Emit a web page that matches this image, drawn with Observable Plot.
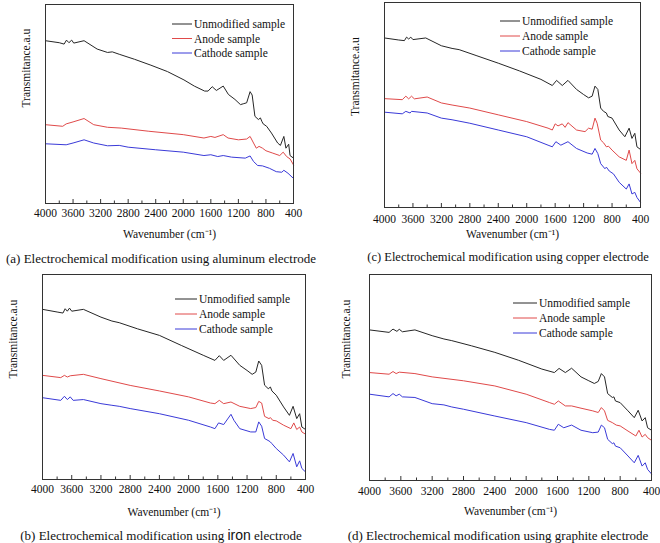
<!DOCTYPE html>
<html><head><meta charset="utf-8">
<script src="https://cdn.jsdelivr.net/npm/d3@7"></script>
<script src="https://cdn.jsdelivr.net/npm/@observablehq/plot@0.6"></script>
<style>
body{margin:0;background:#fff;}
#root{position:relative;width:660px;height:543px;overflow:hidden;background:#fff;font-family:"Liberation Serif","Times New Roman",serif;}
.panel{position:absolute;}
.cap{position:absolute;white-space:nowrap;font-size:13px;color:#111;transform:translate(-50%,-50%);line-height:1;}
</style></head><body><div id="root"></div>
<script>
// ---------- data (wavenumber cm-1, transmittance a.u.) ----------
const seriesNames = ["Unmodified sample", "Anode sample", "Cathode sample"];
const seriesColors = ["#262626", "#e04a4a", "#3a3ad8"];
const majorTicks = [4000, 3600, 3200, 2800, 2400, 2000, 1600, 1200, 800, 400];
const minorTicks = [3800, 3400, 3000, 2600, 2200, 1800, 1400, 1000, 600];
const yLabel = "Transmitance.a.u";
const xLabel = "Wavenumber (cm\u207B\u00B9)";

// (a) aluminum
const alUnmodified = [[4000,81.8],[3800,80.8],[3730,80.1],[3695,82.1],[3660,80.8],[3620,82.1],[3590,80.6],[3440,81.8],[3250,77.6],[3100,75.9],[3030,76.2],[2930,75.0],[2710,72.5],[2470,69.5],[2230,66.3],[1990,62.1],[1840,59.0],[1690,56.5],[1640,56.5],[1580,58.7],[1520,56.8],[1420,59.0],[1345,54.8],[1250,52.3],[1170,49.7],[1130,50.1],[1080,50.6],[1030,56.2],[1000,54.5],[960,43.8],[910,42.2],[880,43.0],[860,41.3],[840,40.0],[790,38.8],[720,35.4],[630,30.4],[590,29.2],[540,33.7],[510,27.8],[470,29.8],[450,24.1],[400,22.8]];
const alAnode = [[4000,39.6],[3750,38.8],[3700,40.0],[3600,41.0],[3440,42.7],[3300,39.6],[3100,38.3],[2900,37.9],[2500,36.3],[2000,34.6],[1700,32.9],[1600,33.7],[1540,33.2],[1420,34.6],[1350,32.9],[1200,32.0],[1080,32.4],[1030,33.7],[980,30.4],[940,27.8],[900,28.7],[850,27.8],[800,26.5],[700,25.3],[600,24.1],[550,25.8],[500,23.6],[450,22.4],[400,19.4]];
const alCathode = [[4000,30.0],[3700,29.5],[3600,30.4],[3440,32.0],[3300,30.4],[3100,29.0],[2930,29.2],[2800,28.3],[2400,27.0],[2000,25.8],[1700,24.1],[1600,24.5],[1500,23.6],[1420,24.1],[1300,23.3],[1100,22.8],[1030,23.9],[980,21.1],[920,19.1],[850,18.9],[750,17.7],[650,16.0],[570,15.7],[540,16.7],[480,15.2],[400,12.6]];

// (c) copper
const cuUnmodified = [[4000,82.7],[3800,81.7],[3720,81.4],[3690,83.1],[3660,82.2],[3630,83.1],[3600,81.9],[3420,82.7],[3200,78.9],[3050,77.6],[2950,77.0],[2700,74.0],[2400,70.4],[2100,66.6],[1800,62.5],[1640,59.5],[1580,62.0],[1500,59.5],[1420,62.0],[1300,57.6],[1200,55.1],[1130,53.5],[1080,54.3],[1040,59.2],[1000,57.6],[960,48.5],[920,46.9],[880,46.1],[860,44.4],[800,43.6],[700,37.8],[620,34.5],[560,38.7],[520,33.7],[480,36.2],[450,29.6],[400,28.3]];
const cuAnode = [[4000,53.1],[3750,52.6],[3700,54.3],[3660,53.0],[3620,54.3],[3580,53.0],[3400,53.9],[3200,51.0],[3050,50.0],[2800,48.5],[2400,45.2],[2000,41.9],[1700,38.7],[1640,37.8],[1600,40.8],[1560,39.8],[1500,40.8],[1460,39.1],[1420,41.4],[1300,37.8],[1180,37.0],[1130,38.7],[1080,38.2],[1040,43.6],[1010,41.1],[960,32.9],[920,31.6],[880,29.6],[850,29.9],[800,28.0],[700,24.7],[600,23.0],[560,28.0],[520,21.4],[480,23.0],[450,18.9],[400,16.8]];
const cuCathode = [[4000,46.5],[3750,45.7],[3700,46.9],[3640,46.1],[3620,46.9],[3400,46.1],[3200,43.6],[3050,42.8],[2800,41.1],[2400,37.8],[2000,34.5],[1700,30.4],[1640,29.6],[1590,32.1],[1520,30.4],[1420,32.1],[1300,28.8],[1150,26.6],[1080,26.0],[1040,28.8],[1000,26.3],[960,21.4],[900,18.9],[880,19.7],[840,17.8],[780,16.4],[700,12.3],[600,9.0],[560,11.5],[520,6.6],[480,7.4],[450,4.9],[400,2.5]];

// (b) iron
const feUnmodified = [[4000,83.0],[3800,81.7],[3720,81.2],[3690,83.3],[3660,82.1],[3630,83.6],[3600,82.1],[3440,83.0],[3200,79.2],[3050,77.3],[2950,76.5],[2700,73.5],[2400,70.3],[2100,65.4],[1800,60.6],[1640,58.1],[1580,60.4],[1520,58.1],[1420,60.6],[1300,55.7],[1200,53.2],[1130,51.3],[1080,52.4],[1040,57.8],[1000,55.7],[960,46.0],[910,44.3],[880,45.1],[860,43.2],[800,41.1],[700,35.4],[620,31.3],[570,35.7],[520,29.7],[480,32.1],[450,25.6],[400,24.4]];
const feAnode = [[4000,50.8],[3750,49.7],[3700,50.8],[3660,50.0],[3620,50.6],[3440,51.3],[3200,49.2],[2800,45.9],[2400,43.2],[2000,40.3],[1700,37.3],[1640,37.0],[1580,38.6],[1520,37.0],[1420,37.8],[1300,35.7],[1150,34.6],[1080,35.1],[1040,38.1],[1000,37.3],[960,30.8],[900,29.7],[880,30.2],[850,28.9],[800,28.6],[700,26.5],[600,24.8],[560,27.6],[520,24.4],[480,25.6],[450,23.2],[400,22.1]];
const feCathode = [[4000,39.9],[3750,38.6],[3700,40.6],[3660,39.0],[3620,40.3],[3580,38.6],[3440,39.0],[3200,37.0],[3050,36.2],[2950,35.7],[2800,34.6],[2400,32.1],[2000,28.9],[1700,25.6],[1640,24.8],[1590,27.6],[1520,26.8],[1420,31.8],[1380,28.9],[1300,24.8],[1150,23.2],[1080,23.2],[1040,28.1],[1000,26.0],[960,20.0],[900,18.8],[880,18.3],[860,17.5],[800,15.1],[700,11.9],[620,8.6],[570,12.7],[520,6.2],[480,9.1],[450,5.4],[400,3.7]];

// (d) graphite
const grUnmodified = [[4000,73.1],[3750,71.9],[3700,73.5],[3650,72.4],[3620,73.4],[3580,72.2],[3420,73.1],[3200,70.3],[3050,68.7],[2950,67.9],[2700,65.4],[2400,62.2],[2100,58.4],[1800,54.1],[1640,52.4],[1580,54.4],[1500,52.4],[1420,54.5],[1300,50.3],[1200,48.4],[1130,47.1],[1080,48.1],[1040,51.9],[1000,50.3],[960,42.2],[900,40.3],[880,40.6],[860,38.6],[800,37.8],[700,33.8],[620,30.5],[570,34.1],[520,28.9],[480,30.5],[450,25.6],[400,24.4]];
const grAnode = [[4000,52.4],[3750,51.6],[3700,52.9],[3660,51.9],[3620,52.6],[3420,51.9],[3200,50.3],[2800,48.4],[2400,45.9],[2000,41.9],[1700,37.8],[1640,37.0],[1590,38.6],[1500,36.2],[1420,36.2],[1300,35.1],[1150,33.8],[1080,33.0],[1040,35.4],[1000,33.8],[960,29.2],[900,28.1],[850,26.9],[800,26.5],[700,24.0],[600,21.6],[560,24.4],[520,21.1],[480,22.4],[450,20.8],[400,19.5]];
const grCathode = [[4000,41.9],[3750,40.6],[3700,42.2],[3660,41.1],[3620,41.9],[3580,40.6],[3420,40.3],[3200,37.3],[3050,36.7],[2950,35.7],[2800,34.6],[2400,31.3],[2000,28.1],[1700,24.8],[1640,24.4],[1590,27.3],[1520,25.6],[1420,26.9],[1300,24.4],[1150,23.2],[1080,23.5],[1040,26.9],[1000,25.6],[960,20.0],[900,17.9],[880,18.3],[860,16.7],[800,15.9],[700,11.9],[620,8.6],[570,12.2],[520,7.0],[480,8.6],[450,5.4],[400,3.2]];

const captions = [
  "(a) Electrochemical modification using aluminum electrode",
  "(c) Electrochemical modification using copper electrode",
  "(b) Electrochemical modification using <span style=\"font-family:'Liberation Sans',Arial,sans-serif;font-size:14px\">iron</span> electrode",
  "(d) Electrochemical modification using graphite electrode"
];

// ---------- layout ----------
const panels = [
  {series:[alUnmodified, alAnode, alCathode], left:0, top:0, width:310, height:248, mL:45, mR:17, mT:4, mB:45,
   ylx:-19, yly:3.5, xly:34, tickPad:5, leg:{x:127, y:20, len:20, gap:14.5}, cap:[161,258], capFs:13},
  {series:[cuUnmodified, cuAnode, cuCathode], left:330, top:0, width:322, height:248, mL:54, mR:12, mT:2, mB:41,
   ylx:-29, yly:11, xly:30, tickPad:7, leg:{x:116, y:19, len:20, gap:15}, cap:[508,257], capFs:12.5},
  {series:[feUnmodified, feAnode, feCathode], left:0, top:270, width:320, height:250, mL:42, mR:15, mT:4, mB:41,
   ylx:-29, yly:1.5, xly:36, tickPad:5, leg:{x:133, y:25, len:22, gap:15}, cap:[161,535], capFs:13},
  {series:[grUnmodified, grAnode, grCathode], left:330, top:270, width:330, height:250, mL:39, mR:9, mT:4, mB:40,
   ylx:-23, yly:1, xly:34, tickPad:6, leg:{x:144, y:29, len:24, gap:15}, cap:[498,535], capFs:13}
];

function legendMark(leg) {
  return (index, scales, values, dims) => {
    const g = d3.create("svg:g").attr("font-size", 11.5).attr("font-family", "Liberation Serif")
      .attr("text-anchor", "start");
    seriesNames.forEach((name, i) => {
      const y = dims.marginTop + leg.y + i * leg.gap;
      const x0 = dims.marginLeft + leg.x;
      g.append("line").attr("x1", x0).attr("x2", x0 + leg.len).attr("y1", y).attr("y2", y)
        .attr("stroke", seriesColors[i]).attr("stroke-width", 1);
      g.append("text").attr("x", x0 + leg.len + 2).attr("y", y).attr("dy", "0.35em")
        .attr("text-anchor", "start").attr("fill", "#111").text(name);
    });
    return g.node();
  };
}

const root = document.getElementById("root");
panels.forEach((p, k) => {
  const rows = [];
  p.series.forEach((s, i) => s.forEach(([wn, t]) => rows.push({wn, t, series: seriesNames[i]})));
  const fh = p.height - p.mT - p.mB;
  const svg = Plot.plot({
    width: p.width, height: p.height,
    marginLeft: p.mL, marginRight: p.mR, marginTop: p.mT, marginBottom: p.mB,
    style: {fontFamily: "Liberation Serif", fontSize: "11.5px", color: "#111", background: "transparent"},
    x: {domain: [4000, 400]},
    y: {domain: [0, 100], axis: null},
    color: {domain: seriesNames, range: seriesColors},
    marks: [
      Plot.ruleX(majorTicks, {x: d => d, insetTop: fh - 4, stroke: "#333", strokeWidth: 1}),
      Plot.ruleX(minorTicks, {x: d => d, insetTop: fh - 2.5, stroke: "#333", strokeWidth: 1}),
      Plot.axisX({ticks: majorTicks, tickSize: 0, tickPadding: p.tickPad, label: null, tickFormat: d => String(d), fontSize: 11.5}),
      Plot.lineY(rows, {x: "wn", y: "t", z: "series", stroke: "series", strokeWidth: 1}),
      Plot.frame({stroke: "#333", strokeWidth: 1}),
      Plot.text([yLabel], {text: d => d, frameAnchor: "left", dx: p.ylx, dy: p.yly, rotate: -90, fontSize: 11.5, fill: "#111"}),
      Plot.text([xLabel], {text: d => d, frameAnchor: "bottom", dy: p.xly, fontSize: 11.5, fill: "#111"}),
      legendMark(p.leg)
    ]
  });
  const wrap = document.createElement("div");
  wrap.className = "panel";
  wrap.style.left = p.left + "px";
  wrap.style.top = p.top + "px";
  wrap.appendChild(svg);
  root.appendChild(wrap);
  const cap = document.createElement("div");
  cap.className = "cap";
  cap.style.left = p.cap[0] + "px";
  cap.style.top = p.cap[1] + "px";
  cap.style.fontSize = p.capFs + "px";
  cap.innerHTML = captions[k];
  root.appendChild(cap);
});
</script></body></html>
